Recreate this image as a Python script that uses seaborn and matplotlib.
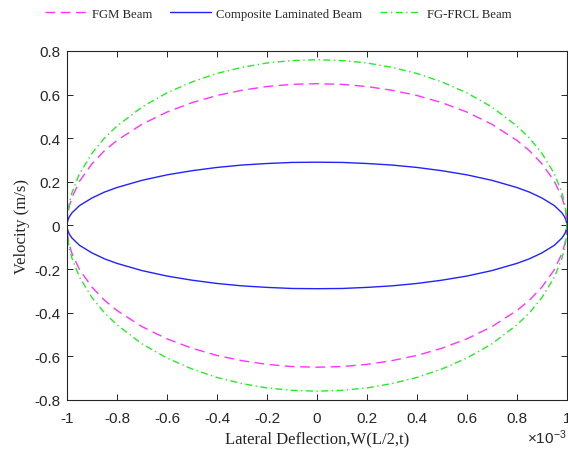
import matplotlib
matplotlib.use('Agg')
from matplotlib import pyplot as plt
from matplotlib.ticker import FuncFormatter, MultipleLocator
import seaborn as sns
import pandas as pd

# lateral deflection positions (upper branch, left to right)
deflection = [-1e-3, -0.999e-3, -0.995e-3, -0.99e-3, -0.98e-3, -0.95e-3, -0.9e-3, -0.85e-3,
              -0.8e-3, -0.7e-3, -0.6e-3, -0.5e-3, -0.4e-3, -0.3e-3, -0.2e-3, -0.1e-3, 0.0,
              0.1e-3, 0.2e-3, 0.3e-3, 0.4e-3, 0.5e-3, 0.6e-3, 0.7e-3, 0.8e-3, 0.85e-3,
              0.9e-3, 0.95e-3, 0.98e-3, 0.99e-3, 0.995e-3, 0.999e-3, 1e-3]

fgm_upper = [0, 0.029, 0.065, 0.092, 0.129, 0.203, 0.283, 0.343, 0.39, 0.464, 0.52, 0.563,
             0.596, 0.620, 0.637, 0.647, 0.65, 0.647, 0.637, 0.620, 0.596, 0.563, 0.52,
             0.464, 0.39, 0.343, 0.283, 0.203, 0.129, 0.092, 0.065, 0.029, 0]
fgm_lower = [0, -0.029, -0.065, -0.092, -0.129, -0.203, -0.283, -0.343, -0.39, -0.464, -0.52,
             -0.563, -0.596, -0.620, -0.637, -0.647, -0.65, -0.647, -0.637, -0.620, -0.596,
             -0.563, -0.52, -0.464, -0.39, -0.343, -0.283, -0.203, -0.129, -0.092, -0.065,
             -0.029, 0]

comp_upper = [0, 0.013, 0.029, 0.041, 0.058, 0.091, 0.126, 0.153, 0.174, 0.207, 0.232, 0.251,
              0.266, 0.277, 0.284, 0.289, 0.29, 0.289, 0.284, 0.277, 0.266, 0.251, 0.232,
              0.207, 0.174, 0.153, 0.126, 0.091, 0.058, 0.041, 0.029, 0.013, 0]
comp_lower = [0, -0.013, -0.029, -0.041, -0.058, -0.091, -0.126, -0.153, -0.174, -0.207,
              -0.232, -0.251, -0.266, -0.277, -0.284, -0.289, -0.29, -0.289, -0.284, -0.277,
              -0.266, -0.251, -0.232, -0.207, -0.174, -0.153, -0.126, -0.091, -0.058, -0.041,
              -0.029, -0.013, 0]

frcl_upper = [0, 0.034, 0.076, 0.107, 0.151, 0.237, 0.331, 0.401, 0.456, 0.543, 0.608, 0.658,
              0.697, 0.725, 0.745, 0.756, 0.76, 0.756, 0.745, 0.725, 0.697, 0.658, 0.608,
              0.543, 0.456, 0.401, 0.331, 0.237, 0.151, 0.107, 0.076, 0.034, 0]
frcl_lower = [0, -0.034, -0.076, -0.107, -0.151, -0.237, -0.331, -0.401, -0.456, -0.543,
              -0.608, -0.658, -0.697, -0.725, -0.745, -0.756, -0.76, -0.756, -0.745, -0.725,
              -0.697, -0.658, -0.608, -0.543, -0.456, -0.401, -0.331, -0.237, -0.151, -0.107,
              -0.076, -0.034, 0]

labels = ['FGM Beam', 'Composite Laminated Beam', 'FG-FRCL Beam']

sns.set_style('ticks')
plt.rcParams['font.family'] = ['Liberation Sans', 'DejaVu Sans']
plt.rcParams['axes.unicode_minus'] = False
plt.rcParams['xtick.direction'] = 'in'
plt.rcParams['ytick.direction'] = 'in'
plt.rcParams['mathtext.fontset'] = 'custom'
plt.rcParams['mathtext.rm'] = 'Liberation Sans'
plt.rcParams['mathtext.it'] = 'Liberation Sans'

text_col = '#262626'

fig = plt.figure(figsize=(5.68, 4.52), dpi=100)
ax = fig.add_axes([0.118, 0.113, 0.880, 0.772])

# closed loop: upper branch left->right, lower branch right->left
loop_x = deflection + deflection[::-1]
curves = [
    (fgm_upper, fgm_lower, '#ff33ff', (0, (7, 4))),
    (comp_upper, comp_lower, '#2222ff', '-'),
    (frcl_upper, frcl_lower, '#22ee22', (0, (5, 2.5, 1, 2.5))),
]
for (up, lo, col, ls), lab in zip(curves, labels):
    df = pd.DataFrame({'x': loop_x, 'v': up + lo[::-1]})
    sns.lineplot(data=df, x='x', y='v', sort=False, estimator=None, ax=ax,
                 color=col, linestyle=ls, linewidth=1.0, label=lab)

ax.set_xlim(-1e-3, 1e-3)
ax.set_ylim(-0.8, 0.8)
ax.xaxis.set_major_locator(MultipleLocator(0.2e-3))
ax.yaxis.set_major_locator(MultipleLocator(0.2))


def clean(v):
    v = round(v, 6)
    return '0' if v == 0 else f'{v:g}'


ax.xaxis.set_major_formatter(FuncFormatter(lambda v, p: clean(v * 1e3)))
ax.yaxis.set_major_formatter(FuncFormatter(lambda v, p: clean(v)))
ax.tick_params(top=True, right=True, labelsize=11, colors=text_col, length=4, width=0.7)
ax.tick_params(axis='x', pad=8)
ax.tick_params(axis='y', pad=5)
for sp in ax.spines.values():
    sp.set_visible(True)
    sp.set_color('#262626')
    sp.set_linewidth(0.8)

ax.set_xlabel('Lateral Deflection,W(L/2,t)', family='Liberation Serif', fontsize=12,
              color=text_col, labelpad=4)
ax.set_ylabel('Velocity (m/s)', family='Liberation Serif', fontsize=12, color=text_col,
              labelpad=3)
fig.text(0.997, 0.031, r'$\times10^{-3}$', ha='right', va='center', fontsize=11,
         color=text_col)

ax.get_legend().remove()
handles, labs = ax.get_legend_handles_labels()
leg = fig.legend(handles, labs, loc='center', bbox_to_anchor=(0.490, 0.967), ncol=3,
                 frameon=False, prop={'family': 'Liberation Serif', 'size': 9.2},
                 handlelength=3.2, columnspacing=1.4, handletextpad=0.45)
for t in leg.get_texts():
    t.set_color(text_col)

fig.savefig('out.png', dpi=100)
